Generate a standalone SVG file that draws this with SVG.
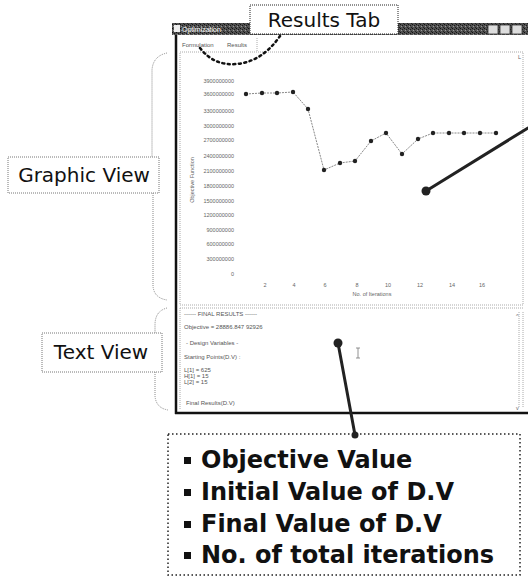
<svg xmlns="http://www.w3.org/2000/svg" width="528" height="581" viewBox="0 0 528 581">
  <defs>
    <pattern id="grain" width="4" height="4" patternUnits="userSpaceOnUse">
      <rect width="4" height="4" fill="#505050"/>
      <rect x="0" y="0" width="1" height="1" fill="#111"/>
      <rect x="2" y="1" width="1" height="1" fill="#1a1a1a"/>
      <rect x="1" y="2" width="1" height="1" fill="#999"/>
      <rect x="3" y="3" width="1" height="1" fill="#222"/>
    </pattern>
  </defs>
  <style>
    .lbl { font-family: "DejaVu Sans", "Liberation Sans", sans-serif; font-size: 20px; fill: #111; }
    .box { fill: #fff; stroke: #777; stroke-width: 1; stroke-dasharray: 1 1; }
    .brace { fill: none; stroke: #888; stroke-width: 1; stroke-dasharray: 1 1; }
    .tiny { font-family: "Liberation Sans", sans-serif; font-size: 5.5px; fill: #666; }
    .small { font-family: "Liberation Sans", sans-serif; font-size: 6px; fill: #555; }
    .frame { fill: none; stroke: #aaa; stroke-width: 1; stroke-dasharray: 1 1; }
    .thick { stroke: #111; stroke-width: 2.5; }
    .pt { fill: #222; }
    .big { font-family: "DejaVu Sans", "Verdana", sans-serif; font-size: 24px; font-weight: bold; fill: #111; }
    .callout { stroke: #222; stroke-width: 3; stroke-linecap: round; }
  </style>

  <!-- application window -->
  <g id="window">
    <rect x="172" y="23" width="356" height="12" fill="#4d4d4d"/>
    <rect x="172" y="23" width="356" height="12" fill="url(#grain)"/>
    <text x="182" y="32" font-family="Liberation Sans, sans-serif" font-size="7" fill="#fff">Optimization</text>
    <rect x="174" y="25" width="6" height="7" fill="#eee"/>
    <g fill="#ddd" stroke="#333" stroke-width="0.8">
      <rect x="488" y="25" width="10" height="9"/>
      <rect x="500" y="25" width="10" height="9"/>
      <rect x="512" y="25" width="10" height="9"/>
    </g>
    <!-- tabs -->
    <text x="182" y="47" class="small">Formulation</text>
    <text x="227" y="47" class="small">Results</text>
    <line x1="257" y1="38" x2="257" y2="51" class="frame"/>
    <!-- window edges -->
    <line x1="176" y1="35" x2="176" y2="414" class="thick"/>
    <line x1="175" y1="413" x2="528" y2="413" class="thick"/>
    <!-- graphic view frame -->
    <rect x="180" y="52" width="343" height="253" class="frame"/>
    <text x="518" y="59" class="tiny">L</text>
    <!-- text view frame -->
    <line x1="180" y1="308" x2="523" y2="308" class="frame"/>
    <line x1="180" y1="308" x2="180" y2="410" class="frame"/>
    <line x1="519" y1="312" x2="519" y2="408" class="frame"/>
    <line x1="523" y1="312" x2="523" y2="408" class="frame"/>
    <text x="516" y="318" class="tiny">^</text>
    <text x="516" y="410" class="tiny">v</text>
  </g>

  <!-- objective function chart -->
  <g id="chart">
    <g class="tiny" text-anchor="end">
      <text x="234" y="83">3900000000</text>
      <text x="234" y="96">3600000000</text>
      <text x="234" y="113">3300000000</text>
      <text x="234" y="128">3000000000</text>
      <text x="234" y="142">2700000000</text>
      <text x="234" y="158">2400000000</text>
      <text x="234" y="173">2100000000</text>
      <text x="234" y="188">1800000000</text>
      <text x="234" y="203">1500000000</text>
      <text x="234" y="217">1200000000</text>
      <text x="234" y="232">900000000</text>
      <text x="234" y="246">600000000</text>
      <text x="234" y="261">300000000</text>
      <text x="234" y="276">0</text>
    </g>
    <text class="tiny" transform="translate(194,180) rotate(-90)" text-anchor="middle">Objective Function</text>
    <g class="tiny" text-anchor="middle">
      <text x="265" y="287">2</text>
      <text x="294" y="287">4</text>
      <text x="325" y="287">6</text>
      <text x="357" y="287">8</text>
      <text x="388" y="287">10</text>
      <text x="420" y="287">12</text>
      <text x="452" y="287">14</text>
      <text x="482" y="287">16</text>
      <text x="372" y="296">No. of Iterations</text>
    </g>
    <polyline fill="none" stroke="#888" stroke-width="1" stroke-dasharray="2 1"
      points="246,94 262,93 277,93 293,92 308,109 324,170 340,163 355,161 371,141 386,133 402,154 418,139 433,133 449,133 464,133 480,133 496,133"/>
    <g class="pt">
      <circle cx="246" cy="94" r="2.2"/>
      <circle cx="262" cy="93" r="2.2"/>
      <circle cx="277" cy="93" r="2.2"/>
      <circle cx="293" cy="92" r="2.2"/>
      <circle cx="308" cy="109" r="2.2"/>
      <circle cx="324" cy="170" r="2.2"/>
      <circle cx="340" cy="163" r="2.2"/>
      <circle cx="355" cy="161" r="2.2"/>
      <circle cx="371" cy="141" r="2.2"/>
      <circle cx="386" cy="133" r="2.2"/>
      <circle cx="402" cy="154" r="2.2"/>
      <circle cx="418" cy="139" r="2.2"/>
      <circle cx="433" cy="133" r="2.2"/>
      <circle cx="449" cy="133" r="2.2"/>
      <circle cx="464" cy="133" r="2.2"/>
      <circle cx="480" cy="133" r="2.2"/>
      <circle cx="496" cy="133" r="2.2"/>
    </g>
  </g>

  <!-- text view contents -->
  <g id="textview" class="small">
    <text x="184" y="316">------ FINAL RESULTS ------</text>
    <text x="184" y="329">Objective = 28886.847 92926</text>
    <text x="186" y="345">- Design Variables -</text>
    <text x="184" y="359">Starting Points(D.V) :</text>
    <text x="184" y="372">L[1] = 625</text>
    <text x="184" y="378">H[1] = 15</text>
    <text x="184" y="384">L[2] = 15</text>
    <text x="186" y="405">Final Results(D.V)</text>
    <path d="M356,348 h4 M358,348 v10 M356,358 h4" stroke="#777" stroke-width="0.8" fill="none"/>
  </g>

  <!-- labels -->
  <g id="results-tab">
    <rect x="250" y="5" width="148" height="29" fill="#fff" stroke="#222" stroke-width="1" stroke-dasharray="1 1"/>
    <text x="324" y="27" class="lbl" text-anchor="middle">Results Tab</text>
  </g>
  <g id="graphic-view">
    <rect x="8" y="157" width="151" height="36" class="box"/>
    <text x="84" y="182" class="lbl" text-anchor="middle">Graphic View</text>
  </g>
  <g id="text-view">
    <rect x="42" y="333" width="120" height="39" class="box"/>
    <text x="101" y="359" class="lbl" text-anchor="middle">Text View</text>
  </g>
  <g id="summary">
    <rect x="168" y="434" width="352" height="141" fill="#fff" stroke="#222" stroke-width="1.5" stroke-dasharray="1.5 2.5"/>
    <g fill="#111">
      <rect x="184" y="457" width="7" height="7"/>
      <rect x="184" y="489" width="7" height="7"/>
      <rect x="184" y="521" width="7" height="7"/>
      <rect x="184" y="552" width="7" height="7"/>
    </g>
    <text x="201" y="468" class="big">Objective Value</text>
    <text x="201" y="500" class="big">Initial Value of D.V</text>
    <text x="201" y="532" class="big">Final Value of D.V</text>
    <text x="201" y="563" class="big">No. of total iterations</text>
  </g>

  <!-- connectors -->
  <g id="connectors">
    <path class="brace" d="M167,53 Q153,56 152,70 V157 M153,193 V286 Q154,298 167,300"/>
    <path class="brace" d="M167,308 Q155,311 155,325 V333 M155,372 V396 Q156,408 168,410"/>
    <path d="M200,48 Q214,66 236,64 Q262,62 280,36" fill="none" stroke="#111" stroke-width="2.5" stroke-dasharray="2 3.5" stroke-linecap="round"/>
    <line x1="426" y1="191" x2="528" y2="128" class="callout"/>
    <circle cx="426" cy="191" r="4.5" fill="#222"/>
    <line x1="338" y1="343" x2="355" y2="435" class="callout"/>
    <circle cx="338" cy="343" r="4.5" fill="#222"/>
    <circle cx="355" cy="435" r="3.5" fill="#222"/>
  </g>
</svg>
